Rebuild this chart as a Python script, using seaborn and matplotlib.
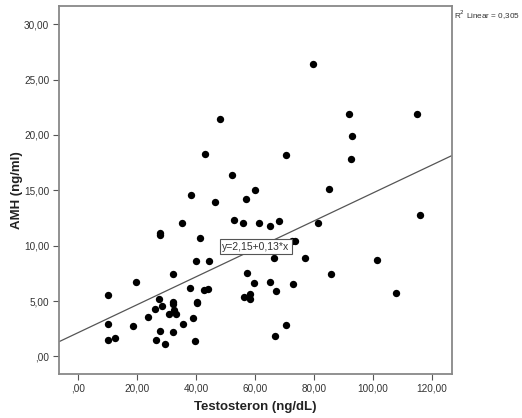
import matplotlib
matplotlib.use("Agg")
import matplotlib.pyplot as plt
import seaborn as sns
import numpy as np
import pandas as pd

# ---- data ----
testosteron = [79.7, 48.1, 91.9, 115.0, 93.0, 43.1, 70.5, 92.6, 52.1, 38.3,
               60.1, 85.0, 46.3, 57.0, 116.0, 35.1, 53.0, 56.0, 61.3, 65.2,
               68.2, 81.4, 27.6, 27.8, 41.2, 72.4, 73.6, 40.1, 44.3, 66.5,
               76.9, 101.5, 32.1, 57.4, 85.8, 19.5, 59.8, 65.2, 37.9, 42.8,
               43.9, 67.2, 72.8, 10.1, 108.0, 56.4, 58.4, 58.2, 27.5, 32.2,
               32.3, 40.2, 40.3, 28.5, 25.9, 32.4, 23.6, 30.7, 33.2, 39.1,
               10.1, 35.7, 70.6, 18.5, 27.7, 32.0, 12.6, 10.0, 26.5, 66.8,
               39.7, 29.3]
amh = [26.4, 21.4, 21.9, 21.9, 19.9, 18.3, 18.15, 17.8, 16.4, 14.6,
       15.0, 15.1, 13.9, 14.2, 12.8, 12.0, 12.3, 12.0, 12.0, 11.8,
       12.2, 12.0, 11.1, 10.95, 10.7, 10.4, 10.4, 8.65, 8.65, 8.9,
       8.9, 8.7, 7.45, 7.55, 7.45, 6.75, 6.65, 6.75, 6.2, 6.0,
       6.05, 5.9, 6.5, 5.5, 5.7, 5.35, 5.6, 5.15, 5.2, 4.9,
       4.75, 4.95, 4.8, 4.55, 4.3, 4.2, 3.6, 3.8, 3.8, 3.5,
       2.9, 2.9, 2.8, 2.7, 2.3, 2.2, 1.7, 1.5, 1.5, 1.8,
       1.4, 1.15]
fit_intercept = 2.15
fit_slope = 0.126
x_ticks = [0, 20, 40, 60, 80, 100, 120]
y_ticks = [0, 5, 10, 15, 20, 25, 30]
x_labels = [",00", "20,00", "40,00", "60,00", "80,00", "100,00", "120,00"]
y_labels = [",00", "5,00", "10,00", "15,00", "20,00", "25,00", "30,00"]
equation_text = "y=2,15+0,13*x"
r2_text = "R$^2$ Linear = 0,305"

df = pd.DataFrame({"Testosteron": testosteron, "AMH": amh})

sns.set_style("white")
plt.rcParams["font.family"] = ["Liberation Sans", "DejaVu Sans"]

fig = plt.figure(figsize=(5.22, 4.18), dpi=100)
ax = fig.add_axes([0.113, 0.105, 0.753, 0.881])

sns.scatterplot(data=df, x="Testosteron", y="AMH", ax=ax, color="black",
                s=28, linewidth=0, zorder=3)

xlim = (-6.55, 126.9)
ylim = (-1.6, 31.65)
ax.set_xlim(*xlim)
ax.set_ylim(*ylim)

xs = np.array(xlim)
ax.plot(xs, fit_intercept + fit_slope * xs, color="#555555", lw=0.9, zorder=2)

ax.text(60.3, 9.9, equation_text, ha="center", va="center", fontsize=7.5,
        color="#333333", zorder=4,
        bbox=dict(boxstyle="square,pad=0.25", fc="white", ec="#555555", lw=0.8))

fig.text(454 / 522, 1 - 15 / 418, r2_text, fontsize=5.9, color="#333333",
         ha="left", va="center")

ax.set_xticks(x_ticks)
ax.set_xticklabels(x_labels)
ax.set_yticks(y_ticks)
ax.set_yticklabels(y_labels)
ax.tick_params(axis="both", which="both", direction="out", length=4, width=0.8,
               color="#555555", labelsize=7.2, labelcolor="#333333", pad=3)
ax.tick_params(axis="x", bottom=True, top=False)
ax.tick_params(axis="y", left=True, right=False)

for sp in ax.spines.values():
    sp.set_visible(True)
    sp.set_color("#888888")
    sp.set_linewidth(1.3)

ax.set_xlabel("Testosteron (ng/dL)", fontsize=9.5, fontweight="bold", color="#222222")
ax.set_ylabel("AMH (ng/ml)", fontsize=9.5, fontweight="bold", color="#222222")
ax.xaxis.set_label_coords(0.5, -0.09)
ax.yaxis.set_label_coords(-0.108, 0.5)
ax.xaxis.label.set_va("center")
ax.yaxis.label.set_va("center")

fig.savefig("out.png", dpi=100)
